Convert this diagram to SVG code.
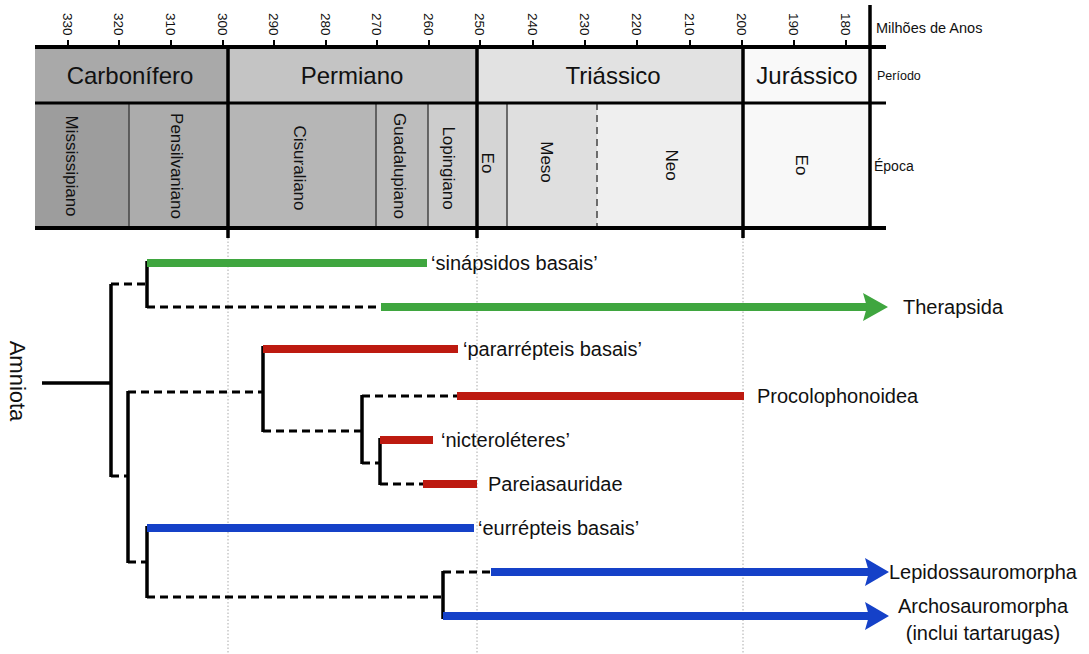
<svg xmlns="http://www.w3.org/2000/svg" width="1089" height="654" viewBox="0 0 1089 654">
<style>
.f{font-family:"Liberation Sans",Arial,sans-serif;fill:#111}
.tick{font-size:13.5px}
.per{font-size:24px;text-anchor:middle}
.ep{font-size:17px;text-anchor:middle}
.lab{font-size:20px}
.k{stroke:#000;stroke-width:3.5;fill:none}
.kd{stroke:#000;stroke-width:3;fill:none;stroke-dasharray:8 5}
.g{stroke:#3fa63f;stroke-width:8}
.r{stroke:#bd1a10;stroke-width:8}
.b{stroke:#1541c8;stroke-width:8}
.dot{stroke:#aaa;stroke-width:1;stroke-dasharray:1.5 2}
.thin{stroke:#444;stroke-width:1.5}
</style>
<rect width="1089" height="654" fill="#fff"/>
<g id="timescale">
<rect x="35" y="47" width="193" height="56" fill="#a9a9a9"/>
<rect x="228" y="47" width="249" height="56" fill="#c4c4c4"/>
<rect x="477" y="47" width="266" height="56" fill="#e2e2e2"/>
<rect x="743" y="47" width="127" height="56" fill="#f9f9f9"/>
<rect x="35" y="103" width="94" height="125" fill="#9d9d9d"/>
<rect x="129" y="103" width="99" height="125" fill="#acacac"/>
<rect x="228" y="103" width="148" height="125" fill="#b6b6b6"/>
<rect x="376" y="103" width="52" height="125" fill="#bdbdbd"/>
<rect x="428" y="103" width="49" height="125" fill="#cdcdcd"/>
<rect x="477" y="103" width="30" height="125" fill="#d5d5d5"/>
<rect x="507" y="103" width="90" height="125" fill="#dfdfdf"/>
<rect x="597" y="103" width="146" height="125" fill="#efefef"/>
<rect x="743" y="103" width="127" height="125" fill="#f8f8f8"/>
<g class="thin">
<line x1="129" y1="103" x2="129" y2="228"/>
<line x1="376" y1="103" x2="376" y2="228"/>
<line x1="428" y1="103" x2="428" y2="228"/>
<line x1="507" y1="103" x2="507" y2="228"/>
<line x1="597" y1="103" x2="597" y2="228" stroke-dasharray="7 5"/>
</g>
<g stroke="#000" stroke-width="3.5">
<line x1="228" y1="47" x2="228" y2="238"/>
<line x1="477" y1="47" x2="477" y2="238"/>
<line x1="743" y1="47" x2="743" y2="238"/>
<line x1="870" y1="5" x2="870" y2="230"/>
<line x1="35" y1="47" x2="886" y2="47" stroke-width="4"/>
<line x1="35" y1="103" x2="886" y2="103" stroke-width="3"/>
<line x1="35" y1="228" x2="886" y2="228" stroke-width="4"/>
</g>
<g stroke="#000" stroke-width="2">
<line x1="68" y1="40" x2="68" y2="47"/><line x1="119" y1="40" x2="119" y2="47"/>
<line x1="171" y1="40" x2="171" y2="47"/><line x1="223" y1="40" x2="223" y2="47"/>
<line x1="274" y1="40" x2="274" y2="47"/><line x1="326" y1="40" x2="326" y2="47"/>
<line x1="377" y1="40" x2="377" y2="47"/><line x1="429" y1="40" x2="429" y2="47"/>
<line x1="480" y1="40" x2="480" y2="47"/><line x1="533" y1="40" x2="533" y2="47"/>
<line x1="585" y1="40" x2="585" y2="47"/><line x1="637" y1="40" x2="637" y2="47"/>
<line x1="690" y1="40" x2="690" y2="47"/><line x1="742" y1="40" x2="742" y2="47"/>
<line x1="794" y1="40" x2="794" y2="47"/><line x1="846" y1="40" x2="846" y2="47"/>
</g>
<g class="f tick">
<text transform="translate(68,13) rotate(90)" dy=".35em">330</text>
<text transform="translate(119,13) rotate(90)" dy=".35em">320</text>
<text transform="translate(171,13) rotate(90)" dy=".35em">310</text>
<text transform="translate(223,13) rotate(90)" dy=".35em">300</text>
<text transform="translate(274,13) rotate(90)" dy=".35em">290</text>
<text transform="translate(326,13) rotate(90)" dy=".35em">280</text>
<text transform="translate(377,13) rotate(90)" dy=".35em">270</text>
<text transform="translate(429,13) rotate(90)" dy=".35em">260</text>
<text transform="translate(480,13) rotate(90)" dy=".35em">250</text>
<text transform="translate(533,13) rotate(90)" dy=".35em">240</text>
<text transform="translate(585,13) rotate(90)" dy=".35em">230</text>
<text transform="translate(637,13) rotate(90)" dy=".35em">220</text>
<text transform="translate(690,13) rotate(90)" dy=".35em">210</text>
<text transform="translate(742,13) rotate(90)" dy=".35em">200</text>
<text transform="translate(794,13) rotate(90)" dy=".35em">190</text>
<text transform="translate(846,13) rotate(90)" dy=".35em">180</text>
</g>
<g class="f per">
<text x="130" y="84">Carbonífero</text>
<text x="352" y="84">Permiano</text>
<text x="613" y="84">Triássico</text>
<text x="807" y="84">Jurássico</text>
</g>
<g class="f ep">
<text transform="translate(72,166) rotate(90)" dy=".35em">Mississipiano</text>
<text transform="translate(177,166) rotate(90)" dy=".35em">Pensilvaniano</text>
<text transform="translate(300,168) rotate(90)" dy=".35em">Cisuraliano</text>
<text transform="translate(400,166) rotate(90)" dy=".35em">Guadalupiano</text>
<text transform="translate(449,168) rotate(90)" dy=".35em">Lopingiano</text>
<text transform="translate(488,163) rotate(90)" dy=".35em">Eo</text>
<text transform="translate(547,162) rotate(90)" dy=".35em">Meso</text>
<text transform="translate(672,165) rotate(90)" dy=".35em">Neo</text>
<text transform="translate(802,165) rotate(90)" dy=".35em">Eo</text>
</g>
<g class="f">
<text x="876" y="33" font-size="14.5">Milhões de Anos</text>
<text x="877" y="80" font-size="12.5">Período</text>
<text x="874" y="171" font-size="14">Época</text>
</g>
<g class="dot">
<line x1="228" y1="238" x2="228" y2="654"/>
<line x1="477" y1="238" x2="477" y2="654"/>
<line x1="743" y1="238" x2="743" y2="654"/>
</g>
</g>
<g id="connectors">
<line class="k" x1="42" y1="383" x2="111" y2="383"/>
<line class="k" x1="111" y1="284" x2="111" y2="477"/>
<line class="kd" x1="111" y1="284" x2="147" y2="284"/>
<line class="kd" x1="111" y1="476" x2="128" y2="476"/>
<line class="k" x1="147" y1="261" x2="147" y2="308"/>
<line class="kd" x1="147" y1="307" x2="381" y2="307"/>
<line class="k" x1="128" y1="391" x2="128" y2="563"/>
<line class="kd" x1="128" y1="392" x2="263" y2="392"/>
<line class="kd" x1="128" y1="562" x2="147" y2="562"/>
<line class="k" x1="263" y1="346" x2="263" y2="432"/>
<line class="kd" x1="263" y1="431" x2="362" y2="431"/>
<line class="k" x1="362" y1="395" x2="362" y2="464"/>
<line class="kd" x1="362" y1="396" x2="457" y2="396"/>
<line class="kd" x1="362" y1="463" x2="380" y2="463"/>
<line class="k" x1="380" y1="438" x2="380" y2="485"/>
<line class="kd" x1="380" y1="484" x2="423" y2="484"/>
<line class="k" x1="147" y1="526" x2="147" y2="598"/>
<line class="kd" x1="147" y1="597" x2="443" y2="597"/>
<line class="k" x1="443" y1="571" x2="443" y2="619"/>
<line class="kd" x1="443" y1="572" x2="491" y2="572"/>
</g>
<g id="amniota"><text class="f" font-size="22" text-anchor="middle" transform="translate(18,381) rotate(90)" dy=".35em">Amniota</text></g>
<g id="sinapsidos-basais">
<line class="g" x1="147" y1="263" x2="427" y2="263"/>
<text class="f lab" x="431" y="270">‘sinápsidos basais’</text>
</g>
<g id="therapsida">
<line class="g" x1="381" y1="307" x2="868" y2="307"/>
<path d="M863,293 L888,307 L863,321 L867,307 Z" fill="#3fa63f"/>
<text class="f lab" x="903" y="314">Therapsida</text>
</g>
<g id="pararrepteis-basais">
<line class="r" x1="263" y1="349" x2="458" y2="349"/>
<text class="f lab" x="463" y="356">‘pararrépteis basais’</text>
</g>
<g id="procolophonoidea">
<line class="r" x1="457" y1="396" x2="744" y2="396"/>
<text class="f lab" x="757" y="403">Procolophonoidea</text>
</g>
<g id="nicteroleteres">
<line class="r" x1="380" y1="440" x2="433" y2="440"/>
<text class="f lab" x="441" y="447">‘nicteroléteres’</text>
</g>
<g id="pareiasauridae">
<line class="r" x1="423" y1="484" x2="477" y2="484"/>
<text class="f lab" x="488" y="491">Pareiasauridae</text>
</g>
<g id="eurrepteis-basais">
<line class="b" x1="147" y1="528" x2="474" y2="528"/>
<text class="f lab" x="478" y="535">‘eurrépteis basais’</text>
</g>
<g id="lepidossauromorpha">
<line class="b" x1="491" y1="572" x2="870" y2="572"/>
<path d="M865,558 L889,572 L865,586 L869,572 Z" fill="#1541c8"/>
<text class="f lab" x="889" y="579">Lepidossauromorpha</text>
</g>
<g id="archosauromorpha">
<line class="b" x1="443" y1="616" x2="870" y2="616"/>
<path d="M865,602 L889,616 L865,630 L869,616 Z" fill="#1541c8"/>
<text class="f lab" x="983" y="613" text-anchor="middle">Archosauromorpha</text>
<text class="f lab" x="983" y="640" text-anchor="middle">(inclui tartarugas)</text>
</g>
</svg>
